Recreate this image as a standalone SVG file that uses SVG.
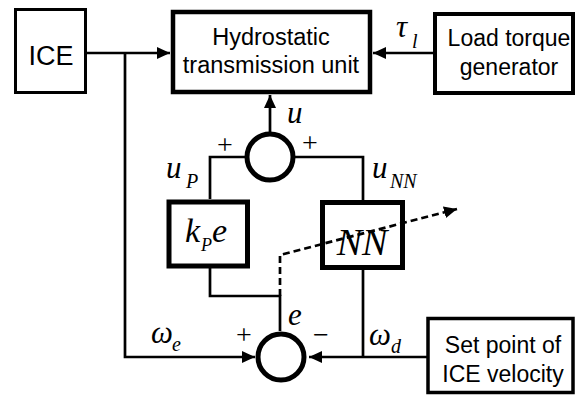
<svg xmlns="http://www.w3.org/2000/svg" width="576" height="396" viewBox="0 0 576 396">
<style>
.box{fill:#fff;stroke:#000}
.ln{fill:none;stroke:#000;stroke-width:2.7}
.sum{fill:#fff;stroke:#000;stroke-width:5}
.t{font-family:"Liberation Sans",Arial,sans-serif;font-size:23px;text-anchor:middle;fill:#000}
.m{font-family:"Liberation Serif","Times New Roman",serif;font-style:italic;fill:#000;font-size:31px}
.sub{font-family:"Liberation Serif","Times New Roman",serif;font-style:italic;fill:#000;font-size:20px}
.s{font-family:"Liberation Serif","Times New Roman",serif;fill:#000;font-size:28px;text-anchor:middle}
</style>
<defs>
<marker id="ah" markerUnits="userSpaceOnUse" markerWidth="14" markerHeight="12" refX="13" refY="6" orient="auto">
<path d="M0,0 L13,6 L0,12 Z" fill="#000"/>
</marker>
</defs>
<rect width="576" height="396" fill="#fff"/>
<g id="ice">
<rect class="box" x="15.5" y="9.5" width="70" height="83" stroke-width="3"/>
<text class="t" x="51" y="65" style="font-size:27px">ICE</text>
</g>
<g id="htu">
<rect class="box" x="173" y="12" width="197" height="80" stroke-width="4.5"/>
<text class="t" x="271" y="45" style="font-size:23.5px">Hydrostatic</text>
<text class="t" x="271" y="73" style="font-size:23.5px">transmission unit</text>
</g>
<g id="load">
<rect class="box" x="435" y="14" width="138" height="79" stroke-width="4"/>
<text class="t" x="509" y="46">Load torque</text>
<text class="t" x="509" y="75">generator</text>
</g>
<g id="sum-top">
<circle class="sum" cx="270" cy="157" r="23"/>
</g>
<g id="kp">
<rect class="box" x="169" y="202" width="78.5" height="64" stroke-width="5"/>
<text class="m" x="185" y="242" style="font-size:34px">k</text>
<text class="sub" x="201" y="251" style="font-size:18px">P</text>
<text class="m" x="212" y="242" style="font-size:34px">e</text>
</g>
<g id="nn">
<rect class="box" x="322.5" y="202.5" width="80" height="65" stroke-width="5"/>
<text class="m" x="362" y="255" style="font-size:38px;text-anchor:middle">NN</text>
</g>
<g id="sum-bottom">
<circle class="sum" cx="281" cy="357" r="23"/>
</g>
<g id="setpoint">
<rect class="box" x="428" y="318.5" width="145" height="74" stroke-width="3.5"/>
<text class="t" x="503" y="353">Set point of</text>
<text class="t" x="503" y="382">ICE velocity</text>
</g>
<g id="connectors">
<polyline class="ln" points="86,53 125,53 170,53" marker-end="url(#ah)"/>
<polyline class="ln" points="125,53 125,357 255,357" marker-end="url(#ah)"/>
<line class="ln" x1="435" y1="53" x2="373" y2="53" marker-end="url(#ah)"/>
<line class="ln" x1="270" y1="132" x2="270" y2="95" marker-end="url(#ah)"/>
<polyline class="ln" points="247,157 210,157 210,199"/>
<polyline class="ln" points="293,157 363,157 363,200"/>
<polyline class="ln" points="210,268 210,296 280,296 280,331"/>
<polyline class="ln" points="363,270 363,357"/>
<line class="ln" x1="428" y1="357" x2="309" y2="357" marker-end="url(#ah)"/>
<polyline class="ln" points="280,296 280,255 457,209" stroke-dasharray="7,4" marker-end="url(#ah)"/>
</g>
<g id="labels">
<text class="m" x="396" y="37">τ</text>
<text class="sub" x="412" y="48">l</text>
<text class="m" x="287" y="123">u</text>
<text class="s" x="225" y="154">+</text>
<text class="s" x="310" y="152">+</text>
<text class="m" x="166" y="178">u</text>
<text class="sub" x="186" y="188">P</text>
<text class="m" x="372" y="178">u</text>
<text class="sub" x="390" y="188">NN</text>
<text class="m" x="151" y="343">ω</text>
<text class="sub" x="172" y="351">e</text>
<text class="s" x="244" y="344">+</text>
<text class="m" x="288" y="325">e</text>
<text class="s" x="321" y="344">−</text>
<text class="m" x="369" y="345">ω</text>
<text class="sub" x="391" y="353">d</text>
</g>
</svg>
